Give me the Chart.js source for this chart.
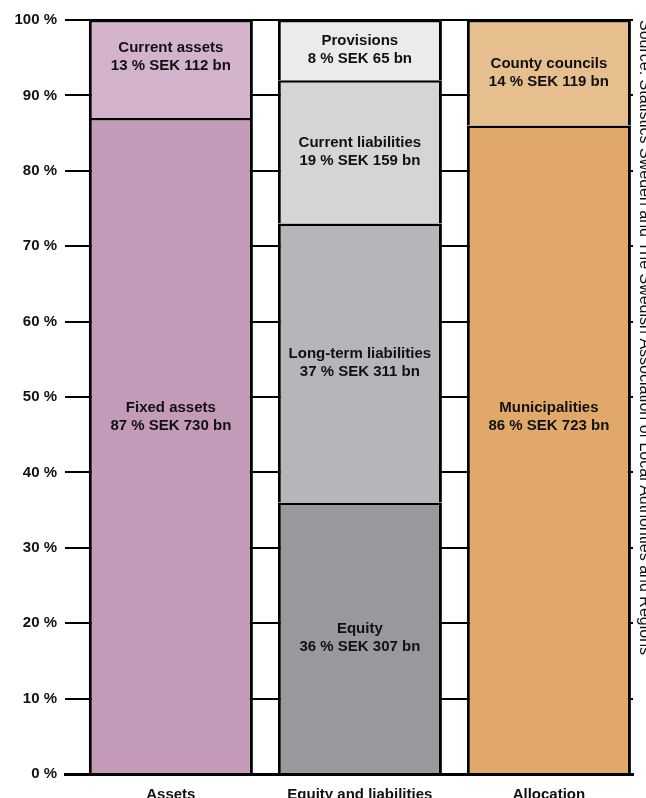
<!DOCTYPE html>
<html>
<head>
<meta charset="utf-8">
<script src="https://cdn.jsdelivr.net/npm/chart.js@4.4.1/dist/chart.umd.min.js"></script>
<style>
  html, body { margin: 0; padding: 0; background: #fff; }
  #wrap { position: relative; width: 646px; height: 798px; }
</style>
</head>
<body>
<div id="wrap"><canvas id="chart"></canvas></div>
<script>
const categories = ['Assets', 'Equity and liabilities', 'Allocation'];

const assetNames = ['Fixed assets', 'Current assets'];
const assetShares = [87, 13];
const assetSek = [730, 112];

const equityNames = ['Equity', 'Long-term liabilities', 'Current liabilities', 'Provisions'];
const equityShares = [36, 37, 19, 8];
const equitySek = [307, 311, 159, 65];

const allocationNames = ['Municipalities', 'County councils'];
const allocationShares = [86, 14];
const allocationSek = [723, 119];

const sourceText = 'Source: Statistics Sweden and The Swedish Association of Local Authorities and Regions';

const assetColors = ['#c49ab9', '#d3b2cb'];
const equityColors = ['#99989d', '#b5b6ba', '#d4d5d7', '#ebebed'];
const allocationColors = ['#e0a96a', '#e7be8e'];

// where the two label lines sit (value units), when not centred in the segment
const labelLevels = { 'Fixed assets': 47.3, 'Current assets': 95.1, 'Municipalities': 47.3 };

const FONT = "'Liberation Sans', Arial, sans-serif";

function makeDatasets(col, names, shares, sek, colors) {
    return names.map((name, i) => ({
        label: name,
        data: [{ x: col, y: shares[i] }],
        sek: sek[i],
        labelAt: labelLevels[name],
        backgroundColor: colors[i],
        borderColor: '#000',
        borderWidth: { top: 2.5, left: 3, right: 3, bottom: 0 },
        categoryPercentage: 1,
        barPercentage: 0.868
    }));
}

const datasets = [
    ...makeDatasets(0, assetNames, assetShares, assetSek, assetColors),
    ...makeDatasets(1, equityNames, equityShares, equitySek, equityColors),
    ...makeDatasets(2, allocationNames, allocationShares, allocationSek, allocationColors)
];

const segmentLabels = {
    id: 'segmentLabels',
    afterDatasetsDraw(chart) {
        const ctx = chart.ctx;
        const yScale = chart.scales.y;
        ctx.save();
        ctx.font = 'bold 15px ' + FONT;
        ctx.fillStyle = '#111';
        ctx.textAlign = 'center';
        ctx.textBaseline = 'middle';
        chart.data.datasets.forEach((ds, i) => {
            const el = chart.getDatasetMeta(i).data[0];
            if (!el) return;
            const p = el.getProps(['x', 'y', 'base'], true);
            const cy = ds.labelAt != null ? yScale.getPixelForValue(ds.labelAt) : (p.y + p.base) / 2;
            ctx.fillText(ds.label, p.x, cy - 9);
            ctx.fillText(ds.data[0].y + ' % SEK ' + ds.sek + ' bn', p.x, cy + 9);
        });
        ctx.restore();
    }
};

new Chart(document.getElementById('chart'), {
    type: 'bar',
    data: { datasets },
    plugins: [segmentLabels],
    options: {
        responsive: true,
        maintainAspectRatio: false,
        animation: false,
        layout: { padding: { top: 20, left: 0, right: 0, bottom: 0 } },
        plugins: {
            legend: { display: false },
            tooltip: { enabled: false },
            title: {
                display: true,
                text: sourceText,
                position: 'right',
                align: 'start',
                color: '#111',
                font: { family: FONT, size: 16, weight: 'normal', lineHeight: '15px' },
                padding: { top: -6, bottom: 4 }
            }
        },
        scales: {
            x: {
                type: 'linear',
                stacked: true,
                offset: false,
                min: -0.56,
                max: 2.445,
                afterBuildTicks: s => { s.ticks = categories.map((c, i) => ({ value: i })); },
                afterFit: s => { s.height = 24; },
                ticks: {
                    callback: v => categories[v],
                    color: '#111',
                    padding: 12,
                    maxRotation: 0,
                    autoSkip: false,
                    font: { family: FONT, size: 15, weight: 'bold' }
                },
                grid: { display: false, drawTicks: false, offset: false },
                border: { display: true, color: '#000', width: 3 }
            },
            y: {
                stacked: true,
                min: 0,
                max: 100,
                afterFit: s => { s.width = 65; },
                ticks: {
                    stepSize: 10,
                    callback: v => v + ' %',
                    color: '#111',
                    padding: 8,
                    font: { family: FONT, size: 15, weight: 'bold' }
                },
                grid: { color: '#000', lineWidth: 2, drawTicks: false },
                border: { display: false }
            }
        }
    }
});
</script>
</body>
</html>
